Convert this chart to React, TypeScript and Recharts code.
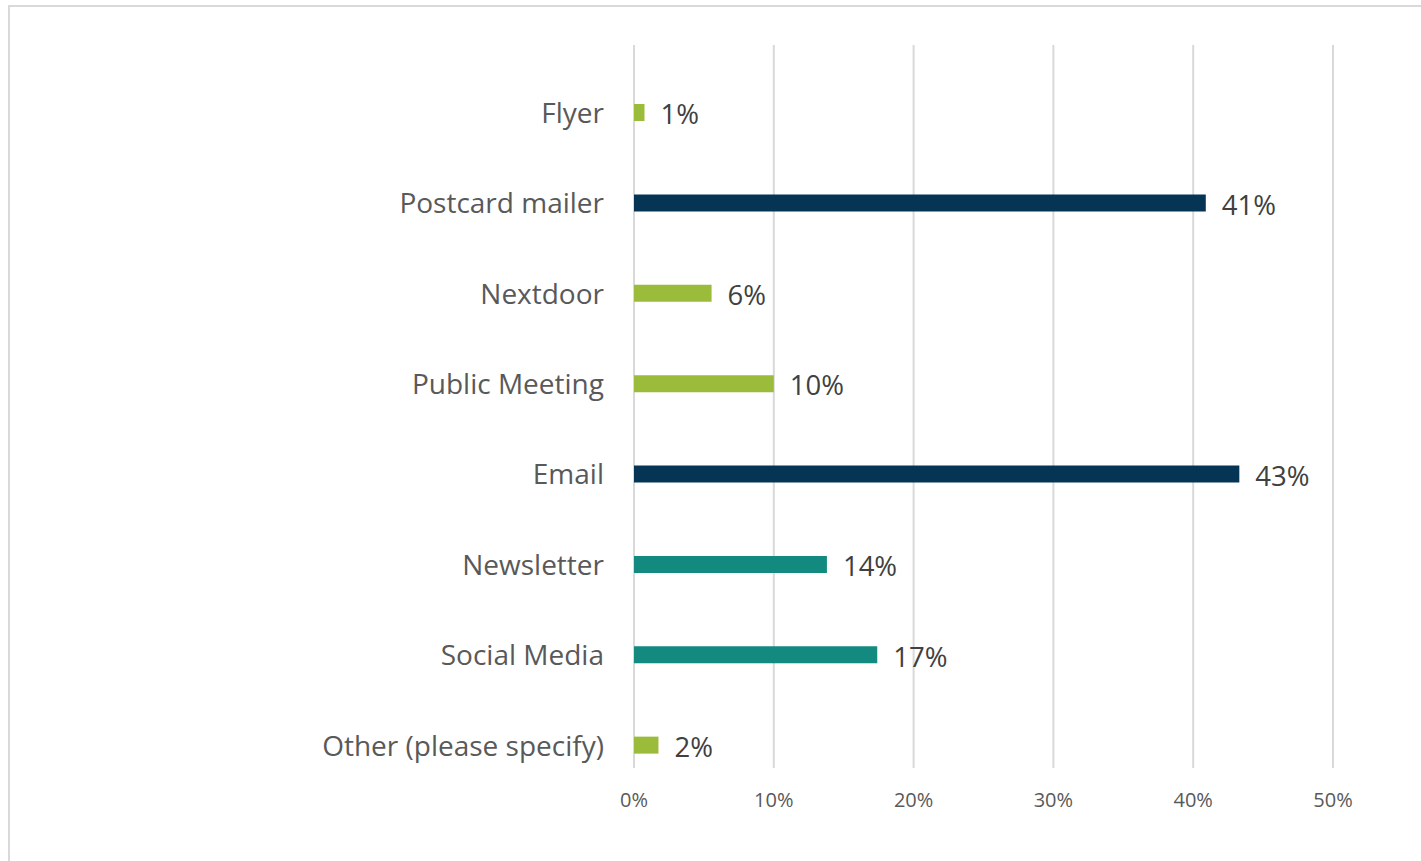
import React from "react";
import { BarChart, Bar, XAxis, YAxis, CartesianGrid, Cell, LabelList } from "recharts";

const categories = [
  "Flyer",
  "Postcard mailer",
  "Nextdoor",
  "Public Meeting",
  "Email",
  "Newsletter",
  "Social Media",
  "Other (please specify)",
];
const shares = [0.75, 40.9, 5.55, 10.0, 43.3, 13.8, 17.4, 1.75];
const barColors = ["#9BBB3B", "#063454", "#9BBB3B", "#9BBB3B", "#063454", "#138A80", "#138A80", "#9BBB3B"];
const xTicks = [0, 10, 20, 30, 40, 50];

const data = categories.map((name, i) => ({ name, pad: 0, value: shares[i] }));

const FONT = "'Open Sans', sans-serif";

function CategoryTick(props: any) {
  const { x, y, payload } = props;
  return (
    <text x={x} y={y + 23} dy="0.35em" textAnchor="end" fill="#595959" fontSize={28} fontFamily={FONT}>
      {payload.value}
    </text>
  );
}

export default function App() {
  return (
    <div style={{ position: "absolute", left: 0, top: 0, width: 1421, height: 861, overflow: "hidden", background: "#fff" }}>
      <div
        style={{
          position: "absolute",
          left: 8,
          top: 5,
          width: 1440,
          height: 880,
          borderTop: "2px solid #d9d9d9",
          borderLeft: "2px solid #d9d9d9",
        }}
      />
      <div style={{ position: "absolute", left: 0, top: 0 }}>
        <BarChart
          width={1421}
          height={861}
          data={data}
          layout="vertical"
          margin={{ top: 45, right: 88, bottom: 53, left: 0 }}
          barGap={28}
        >
          <CartesianGrid horizontal={false} stroke="#d9d9d9" strokeWidth={2} />
          <XAxis
            type="number"
            domain={[0, 50]}
            ticks={xTicks}
            tickFormatter={(v: number) => `${v}%`}
            axisLine={false}
            tickLine={false}
            tickSize={0}
            tickMargin={25}
            height={40}
            tick={{ fill: "#595959", fontSize: 20, fontFamily: FONT }}
            interval={0}
          />
          <YAxis
            type="category"
            dataKey="name"
            width={634}
            axisLine={false}
            tickLine={false}
            tickSize={0}
            tickMargin={30}
            tick={<CategoryTick />}
            interval={0}
          />
          <Bar dataKey="pad" barSize={17} fill="transparent" isAnimationActive={false} />
          <Bar dataKey="value" barSize={17} isAnimationActive={false}>
            {data.map((d, i) => (
              <Cell key={d.name} fill={barColors[i]} />
            ))}
            <LabelList
              dataKey="value"
              position="right"
              offset={16}
              dy={2}
              formatter={(v: any) => `${Math.round(Number(v))}%`}
              fill="#404040"
              fontSize={27.5}
              fontFamily={FONT}
            />
          </Bar>
        </BarChart>
      </div>
    </div>
  );
}
